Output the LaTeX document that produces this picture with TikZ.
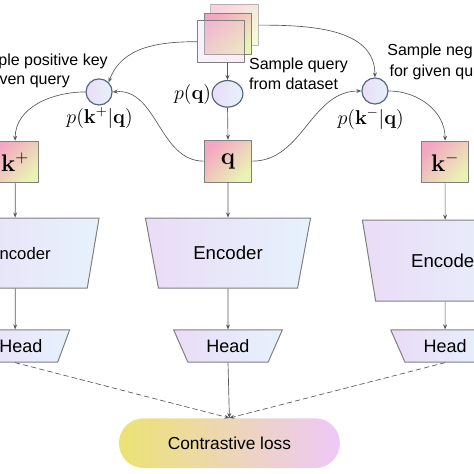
\documentclass[tikz,border=0pt]{standalone}
\usepackage[no-math]{fontspec}
\setmainfont{Liberation Sans}
\usepackage{amsmath}
\usetikzlibrary{arrows.meta,shapes.geometric}
\begin{document}
\begin{tikzpicture}[line cap=round, line join=round, >={Stealth[length=3pt,width=2.4pt]}]

    \colorlet{myedge}{black!50}
    \colorlet{myline}{black!65}
    \definecolor{myring}{HTML}{55657A}
    \definecolor{mypink}{HTML}{F3A6C2}
    \definecolor{mygreen}{HTML}{E9F4B4}
    \definecolor{mylilac}{HTML}{EADCF7}
    \definecolor{mysky}{HTML}{E6F2FC}
    \definecolor{myyellow}{HTML}{EBE373}
    \definecolor{mypeach}{HTML}{EBC8B2}
    \definecolor{myorchid}{HTML}{EEC8F8}

    \tikzset{
      sample/.style={
        draw=myedge, line width=.6pt, rectangle, inner sep=0pt,
        minimum width=1.0cm, minimum height=.88cm,
        left color=mypink, right color=mygreen, shading angle=45
      },
      bubble/.style={
        draw=myring, line width=.7pt, circle, inner sep=0pt,
        minimum size=.55cm, left color=mylilac, right color=mysky
      },
      funnel/.style={
        draw=myedge, line width=.6pt, trapezium, shape border rotate=180,
        trapezium stretches=true, inner sep=0pt,
        left color=mylilac, right color=mysky
      },
      arrowline/.style={->, myline, line width=.4pt},
      lossline/.style={->, myline, line width=.4pt, densely dashed},
      note/.style={inner sep=0pt, font=\fontsize{9.6}{12.5}\selectfont},
      plabel/.style={font=\fontsize{11.5}{13}\selectfont},
      enclabel/.style={font=\fontsize{11.2}{13}\selectfont},
      headlabel/.style={font=\fontsize{10.8}{13}\selectfont}
    }

    \useasboundingbox (0,0) rectangle (10,10);

    % dataset
    \node[sample, opacity=.5] (dsback) at (4.95,9.47) {};
    \node[sample] (dsmid) at (4.81,9.28) {};
    \node[sample, fill opacity=.35, left color=mylilac, right color=mypink!60] (dsfront) at (4.66,9.12) {};

    % sampling
    \node[bubble] (pleft) at (2.09,8.06) {};
    \node[bubble, ellipse, minimum width=.65cm, minimum height=.56cm] (pmid) at (4.8,8.02) {};
    \node[bubble] (pright) at (7.91,8.08) {};

    \node[plabel] (ptxtleft) at (2.1,7.51) {$p(\mathbf{k}^{+}|\mathbf{q})$};
    \node[plabel, anchor=east, inner sep=0pt] (ptxtmid) at (4.46,8.0) {$p(\mathbf{q})$};
    \node[plabel] (ptxtright) at (7.82,7.49) {$p(\mathbf{k}^{-}|\mathbf{q})$};

    \node[note, anchor=east] (noteleftA) at (2.28,8.7) {ple positive key};
    \node[note, anchor=east] (noteleftB) at (1.48,8.27) {ven query};
    \node[note, anchor=west] (notemidA) at (5.25,8.63) {Sample query};
    \node[note, anchor=west] (notemidB) at (5.25,8.23) {from dataset};
    \node[note, anchor=east] (noterightA) at (9.98,8.92) {Sample neg};
    \node[note, anchor=east] (noterightB) at (9.99,8.48) {for given qu};

    % keys
    \node[sample, font=\Large] (kpos) at (.32,6.58) {$\mathbf{k}^{+}$};
    \node[sample, font=\Large] (query) at (4.81,6.6) {$\mathbf{q}$};
    \node[sample, font=\Large] (kneg) at (9.39,6.58) {$\mathbf{k}^{-}$};

    % encoders
    \node[funnel, note, font=\fontsize{10}{12}\selectfont, minimum width=3.54cm, minimum height=1.48cm, trapezium angle=64.6] (encleft) at (.32,4.66) {\hspace*{.42cm}ncoder};
    \node[funnel, enclabel, minimum width=3.5cm, minimum height=1.48cm, trapezium angle=64.6] (encmid) at (4.81,4.66) {Encoder};
    \node[funnel, enclabel, minimum width=3.5cm, minimum height=1.71cm, trapezium angle=64.6] (encright) at (9.39,4.5) {Encode\hspace*{.1cm}};

    % heads
    \node[funnel, headlabel, minimum width=2.3cm, minimum height=.68cm, trapezium angle=60] (headleft) at (.32,2.7) {\hspace*{.24cm}Head};
    \node[funnel, headlabel, minimum width=2.3cm, minimum height=.68cm, trapezium angle=60] (headmid) at (4.81,2.7) {Head};
    \node[funnel, headlabel, minimum width=2.3cm, minimum height=.68cm, trapezium angle=60] (headright) at (9.39,2.7) {Head};

    % loss
    \node[font=\fontsize{10.4}{12}\selectfont, rounded corners=.52cm, inner sep=0pt, minimum width=4.66cm, minimum height=1.05cm,
      left color=myyellow, middle color=mypeach, right color=myorchid] (loss) at (4.84,.65) {Contrastive loss};

    % connectors
    \draw[arrowline] (dsfront.west) to[out=180,in=70] (pleft.north east);
    \draw[arrowline] (dsback.east) to[out=0,in=90] (pright.north);
    \draw[arrowline] (dsfront.south -| pmid.north) -- (pmid.north);
    \draw[arrowline] (pmid.south) -- (query.north);
    \draw[arrowline] (pleft.west) to[out=180,in=90] (kpos.north);
    \draw[arrowline] (query.west) to[out=180,in=5] (pleft.east);
    \draw[arrowline] (query.east) to[out=0,in=180] (pright.west);
    \draw[arrowline] (pright.east) to[out=0,in=90] (kneg.north);
    \draw[arrowline] (kpos.south) -- (encleft.north);
    \draw[arrowline] (query.south) -- (encmid.north);
    \draw[arrowline] (kneg.south) -- (encright.north);
    \draw[arrowline] (encleft.south) -- (headleft.north);
    \draw[arrowline] (encmid.south) -- (headmid.north);
    \draw[arrowline] (encright.south) -- (headright.north);
    \draw[lossline] (headleft.south) -- (loss.north);
    \draw[arrowline] (headmid.south) -- (loss.north);
    \draw[lossline] (headright.south) -- (loss.north);

\end{tikzpicture}
\end{document}
